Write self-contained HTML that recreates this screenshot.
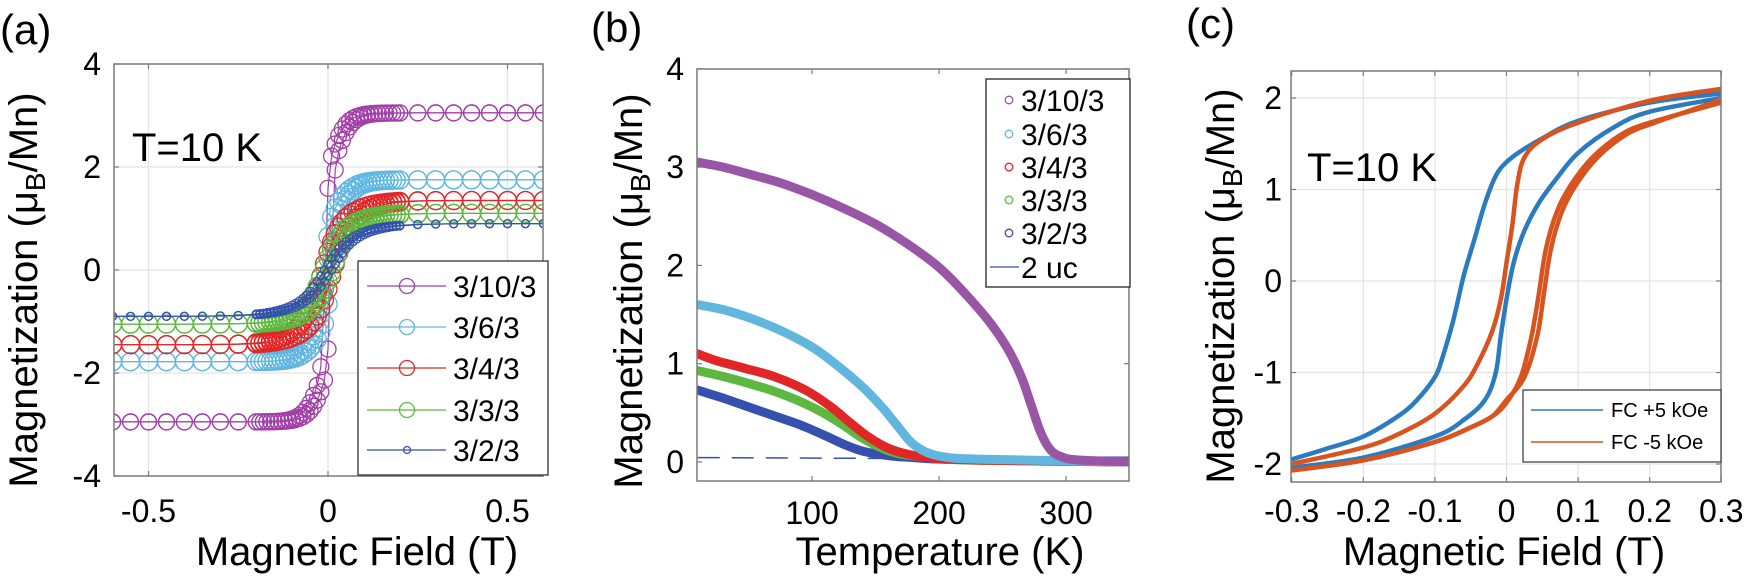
<!DOCTYPE html>
<html><head><meta charset="utf-8">
<style>
html,body{margin:0;padding:0;background:#fff;}
svg{display:block;font-family:"Liberation Sans",Arial,sans-serif;}
</style></head>
<body>
<svg id="s" width="1746" height="579" viewBox="0 0 1746 579" xmlns="http://www.w3.org/2000/svg">
<defs>
<clipPath id="ca"><rect x="114" y="64" width="429" height="412"/></clipPath>
<clipPath id="cb"><rect x="697" y="69" width="432" height="412"/></clipPath>
<clipPath id="cc"><rect x="1291" y="71" width="430" height="411"/></clipPath>
</defs>
<g id="root"></g>
</svg>
<script>
const NS="http://www.w3.org/2000/svg";
const root=document.getElementById('root');
function el(tag,attrs,parent,txt){const e=document.createElementNS(NS,tag);for(const k in attrs)e.setAttribute(k,attrs[k]);if(txt!==undefined)e.textContent=txt;(parent||root).appendChild(e);return e;}
function line(x1,y1,x2,y2,st,w,p,dash){const a={x1,y1,x2,y2,stroke:st,'stroke-width':w};if(dash)a['stroke-dasharray']=dash;return el('line',a,p);}
function text(x,y,t,size,anchor,p,extra){const a={x,y,'font-size':size,'text-anchor':anchor||'start',fill:'#000'};if(extra)Object.assign(a,extra);return el('text',a,p,t);}
function smooth(pts){let d='M'+pts[0][0].toFixed(1)+','+pts[0][1].toFixed(1);for(let i=0;i<pts.length-1;i++){const p0=pts[i-1]||pts[i],p1=pts[i],p2=pts[i+1],p3=pts[i+2]||p2;const c1=[p1[0]+(p2[0]-p0[0])/6,p1[1]+(p2[1]-p0[1])/6],c2=[p2[0]-(p3[0]-p1[0])/6,p2[1]-(p3[1]-p1[1])/6];d+='C'+c1[0].toFixed(1)+','+c1[1].toFixed(1)+' '+c2[0].toFixed(1)+','+c2[1].toFixed(1)+' '+p2[0].toFixed(1)+','+p2[1].toFixed(1);}return d;}
const AX='#7a7a7a', GR='#e3e3e3';

/* ---------- Panel A ---------- */
(function(){
 const X=h=>328+359*h, Y=m=>270-51.5*m;
 const L=114,R=543,T=64,B=476;
 [-0.5,0,0.5].forEach(h=>line(X(h),T,X(h),B,GR,1.2));
 [-4,-2,0,2,4].forEach(m=>line(L,Y(m),R,Y(m),GR,1.2));
 const g=el('g',{'clip-path':'url(#ca)'});
 const series=[
  ['#a23ea8',3.05,2.95,0.008,0.008,0.05,0.6,8],
  ['#5fb6e0',1.75,1.78,0.008,0.01,0.06,0.45,9],
  ['#e02626',1.35,1.45,0.015,0.04,0.1,0.5,9],
  ['#5cb83e',1.1,1.05,0.012,0.04,0.1,0.5,9],
  ['#3550ae',0.9,0.9,0.01,0.05,0.12,0.4,4]];
 const Hs=[];for(let h=-0.6;h<-0.2;h+=0.05)Hs.push(h);for(let h=-0.2;h<0.2;h+=0.01)Hs.push(h);for(let h=0.2;h<=0.601;h+=0.05)Hs.push(h);
 series.forEach(s=>{
  const [c,Mp,Mn,hc,w1,w2,fr,r]=s;
  const f=(H,h0)=>{const x=H-h0;const v=fr*Math.tanh(x/w1)+(1-fr)*Math.tanh(x/w2);return v>0?Mp*v:Mn*v;};
  [[hc,1],[-hc,-1]].forEach(([h0,dir])=>{
   const hs=dir>0?Hs:[...Hs].reverse();
   const pts=hs.map(H=>[X(H),Y(f(H,h0))]);
   el('polyline',{points:pts.map(p=>p[0].toFixed(1)+','+p[1].toFixed(1)).join(' '),fill:'none',stroke:c,'stroke-width':1.2},g);
   pts.forEach(p=>el('circle',{cx:p[0],cy:p[1],r:r,fill:'none',stroke:c,'stroke-width':1.3},g));
  });
 });
 el('rect',{x:L,y:T,width:R-L,height:B-T,fill:'none',stroke:AX,'stroke-width':1.5});
 [-0.5,0,0.5].forEach(h=>{line(X(h),B,X(h),B-5,AX,1.2);line(X(h),T,X(h),T+5,AX,1.2);});
 [-4,-2,0,2,4].forEach(m=>{line(L,Y(m),L+5,Y(m),AX,1.2);line(R,Y(m),R-5,Y(m),AX,1.2);});
 [['4',4],['2',2],['0',0],['-2',-2],['-4',-4]].forEach(([t,m])=>text(101,Y(m)+11,t,32,'end'));
 [['-0.5',-0.5],['0',0],['0.5',0.5]].forEach(([t,h])=>text(X(h),522,t,32,'middle'));
 text(132,161,'T=10 K',40);
 // legend
 el('rect',{x:358,y:261,width:190,height:214,fill:'#fff',stroke:'#333','stroke-width':1.3});
 const ly=[286,327,368,410,450],lab=['3/10/3','3/6/3','3/4/3','3/3/3','3/2/3'];
 series.forEach((s,i)=>{line(367,ly[i],446,ly[i],s[0],1.3);el('circle',{cx:407,cy:ly[i],r:s[7]==4?3.5:7.5,fill:'none',stroke:s[0],'stroke-width':1.3});text(453,ly[i]+11,lab[i],30);});
 text(357,565,'Magnetic Field (T)',40,'middle');
 const yl=el('text',{x:37,y:290,'font-size':40,'text-anchor':'middle',transform:'rotate(-90 37 290)'});
 yl.innerHTML='Magnetization (μ<tspan font-size="28" dy="8">B</tspan><tspan dy="-8">/Mn)</tspan>';
 text(0,44,'(a)',42);
})();

/* ---------- Panel B ---------- */
(function(){
 const X=t=>697+(t-9.4)*1.27, Y=m=>462-98.3*m;
 const L=697,R=1129,T=69,B=481;
 const g=el('g',{'clip-path':'url(#cb)'});
 // dashed 2uc
 el('path',{d:'M'+X(10)+','+Y(0.045)+' L'+X(180)+','+Y(0.035),stroke:'#3550ae','stroke-width':1.5,'stroke-dasharray':'22,12',fill:'none'},g);
 const data=[
  ['#3550ae',[[10,0.73],[30,0.65],[50,0.56],[70,0.47],[90,0.38],[110,0.27],[125,0.18],[140,0.11],[160,0.065],[180,0.045],[200,0.03],[250,0.015],[350,0.01]]],
  ['#5cb83e',[[10,0.93],[30,0.87],[50,0.8],[70,0.72],[90,0.62],[110,0.49],[125,0.37],[140,0.24],[155,0.14],[170,0.08],[190,0.05],[220,0.02],[350,0.0]]],
  ['#e02626',[[10,1.1],[25,1.03],[45,0.96],[70,0.87],[95,0.73],[115,0.56],[130,0.4],[145,0.25],[160,0.14],[175,0.08],[195,0.04],[230,0.02],[350,0.0]]],
  ['#60b6df',[[10,1.6],[30,1.55],[50,1.47],[75,1.34],[100,1.17],[120,0.98],[140,0.76],[155,0.56],[167,0.37],[178,0.2],[190,0.1],[205,0.05],[230,0.03],[350,0.0]]],
  ['#9a56a6',[[10,3.05],[30,3.0],[50,2.93],[75,2.84],[100,2.72],[125,2.58],[150,2.42],[175,2.22],[200,1.98],[220,1.72],[240,1.42],[255,1.13],[265,0.86],[272,0.6],[280,0.3],[288,0.12],[297,0.05],[310,0.02],[350,0.0]]]
 ];
 data.forEach(([c,pts])=>el('path',{d:smooth(pts.map(p=>[X(p[0]),Y(p[1])])),stroke:c,'stroke-width':9,fill:'none','stroke-linecap':'round','stroke-linejoin':'round'},g));
 el('rect',{x:L,y:T,width:R-L,height:B-T,fill:'none',stroke:AX,'stroke-width':1.5});
 [100,200,300].forEach(t=>{line(X(t),B,X(t),B-5,AX,1.2);line(X(t),T,X(t),T+5,AX,1.2);text(X(t),524,String(t),32,'middle');});
 [0,1,2,3,4].forEach(m=>{line(L,Y(m),L+5,Y(m),AX,1.2);line(R,Y(m),R-5,Y(m),AX,1.2);text(684,Y(m)+11,String(m),32,'end');});
 el('rect',{x:986,y:79,width:144,height:208,fill:'#fff',stroke:'#222','stroke-width':1.3});
 const ly=[100,134,167,200,233],cols=['#9a56a6','#60b6df','#e02626','#5cb83e','#3550ae'],lab=['3/10/3','3/6/3','3/4/3','3/3/3','3/2/3'];
 ly.forEach((y,i)=>{el('circle',{cx:1009,cy:y,r:3.8,fill:'none',stroke:cols[i],'stroke-width':1.3});text(1021,y+11,lab[i],30);});
 line(990,267,1019,267,'#3550ae',1.3);text(1021,278,'2 uc',30);
 text(940,565,'Temperature (K)',40,'middle');
 const yl=el('text',{x:642,y:291,'font-size':40,'text-anchor':'middle',transform:'rotate(-90 642 291)'});
 yl.innerHTML='Magnetization (μ<tspan font-size="28" dy="8">B</tspan><tspan dy="-8">/Mn)</tspan>';
 text(591,42,'(b)',42);
})();

/* ---------- Panel C ---------- */
(function(){
 const X=h=>1506.5+716*h, Y=m=>281-91.5*m;
 const L=1291,R=1721,T=71,B=482;
 [-0.2,-0.1,0,0.1,0.2].forEach(h=>line(X(h),T,X(h),B,GR,1.2));
 [-2,-1,0,1,2].forEach(m=>line(L,Y(m),R,Y(m),GR,1.2));
 const g=el('g',{'clip-path':'url(#cc)'});
 const BL='#2b7bc0',OR='#d9531e';
 const curves=[
  [BL,[[0.3,2.05],[0.2,1.95],[0.1,1.75],[0.05,1.56],[0.02,1.42],[0,1.3],[-0.015,1.15],[-0.03,0.85],[-0.045,0.45],[-0.06,0.05],[-0.075,-0.45],[-0.09,-0.85],[-0.1,-1.05],[-0.125,-1.3],[-0.15,-1.47],[-0.2,-1.7],[-0.25,-1.83],[-0.3,-1.95]]],
  [BL,[[-0.3,-2.04],[-0.2,-1.93],[-0.1,-1.7],[-0.06,-1.52],[-0.03,-1.3],[-0.015,-1.0],[-0.008,-0.6],[0.0,-0.2],[0.01,0.2],[0.025,0.55],[0.045,0.85],[0.07,1.12],[0.1,1.4],[0.15,1.68],[0.2,1.85],[0.3,2.0]]],
  [OR,[[0.3,2.1],[0.2,1.97],[0.1,1.73],[0.05,1.55],[0.025,1.35],[0.015,1.05],[0.008,0.6],[0.0,0.2],[-0.008,-0.2],[-0.02,-0.55],[-0.04,-0.9],[-0.06,-1.15],[-0.1,-1.45],[-0.15,-1.67],[-0.2,-1.82],[-0.3,-2.0]]],
  [OR,[[-0.3,-2.07],[-0.2,-1.96],[-0.1,-1.76],[-0.05,-1.6],[-0.02,-1.48],[0.0,-1.33],[0.02,-1.05],[0.035,-0.6],[0.045,-0.15],[0.055,0.35],[0.07,0.75],[0.09,1.05],[0.12,1.35],[0.16,1.6],[0.2,1.73],[0.3,1.95]]],
  [OR,[[-0.3,-2.07],[-0.2,-1.96],[-0.1,-1.76],[-0.05,-1.6],[-0.02,-1.48],[0.0,-1.3],[0.025,-1.05],[0.043,-0.6],[0.052,-0.15],[0.062,0.35],[0.077,0.75],[0.097,1.05],[0.127,1.35],[0.167,1.6],[0.207,1.73],[0.3,1.98]]]
 ];
 curves.forEach(([c,pts])=>el('path',{d:smooth(pts.map(p=>[X(p[0]),Y(p[1])])),stroke:c,'stroke-width':4.5,fill:'none','stroke-linecap':'round','stroke-linejoin':'round'},g));
 el('rect',{x:L,y:T,width:R-L,height:B-T,fill:'none',stroke:AX,'stroke-width':1.5});
 [-0.3,-0.2,-0.1,0,0.1,0.2,0.3].forEach(h=>{line(X(h),B,X(h),B-5,AX,1.2);line(X(h),T,X(h),T+5,AX,1.2);text(X(h),522,(h===0?'0':h.toFixed(1)),32,'middle');});
 [-2,-1,0,1,2].forEach(m=>{line(L,Y(m),L+5,Y(m),AX,1.2);line(R,Y(m),R-5,Y(m),AX,1.2);text(1282,Y(m)+11,String(m),32,'end');});
 text(1307,181,'T=10 K',40);
 el('rect',{x:1523,y:390,width:198,height:72,fill:'#fff',stroke:'#444','stroke-width':1.3});
 line(1531,410,1603,410,BL,1.6);text(1611,417,'FC +5 kOe',20);
 line(1531,442,1603,442,OR,1.6);text(1611,449,'FC -5 kOe',20);
 text(1504,565,'Magnetic Field (T)',40,'middle');
 const yl=el('text',{x:1234,y:286,'font-size':40,'text-anchor':'middle',transform:'rotate(-90 1234 286)'});
 yl.innerHTML='Magnetization (μ<tspan font-size="28" dy="8">B</tspan><tspan dy="-8">/Mn)</tspan>';
 text(1186,38,'(c)',42);
})();
</script>
</body></html>
